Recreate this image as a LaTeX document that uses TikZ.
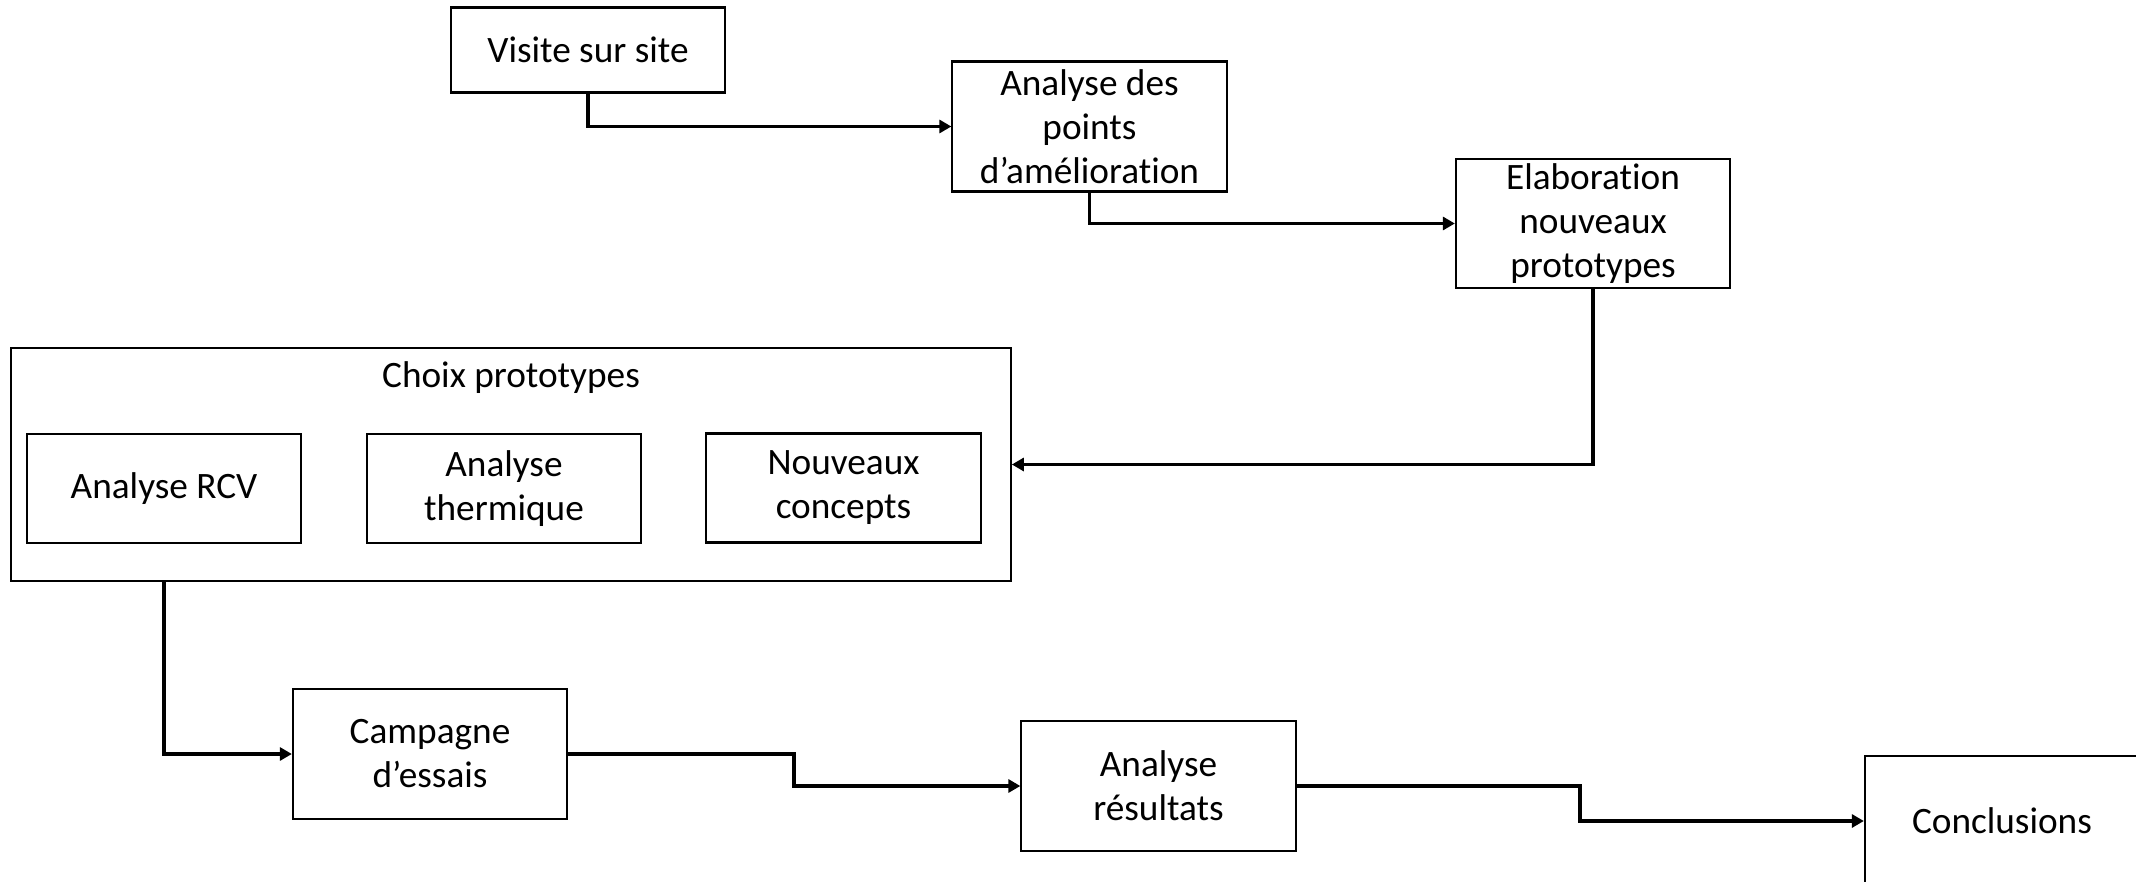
\documentclass[tikz,border=0pt]{standalone}
\usepackage{fontspec}
\setmainfont{Carlito}[Ligatures=NoCommon]
\usetikzlibrary{arrows.meta}
\begin{document}
\begin{tikzpicture}[x=0.01cm,y=-0.01cm,
  box/.style={draw=black,line width=0.6pt,minimum width=2.74cm,minimum height=1.30cm,
    inner sep=0pt,align=center,font=\fontsize{10.6}{12.5}\selectfont},
  conn/.style={line width=1pt,-{Triangle[length=0.12cm,width=0.13cm]}}]
\useasboundingbox (0,0) rectangle (2136,882);
\clip (0,0) rectangle (2136,882);
\node[box,minimum height=0.85cm] (visite) at (588,50) {Visite sur site};
\node[box] (ana) at (1089.5,126.5) {Analyse des\\points\\d’amélioration};
\node[box,minimum height=1.29cm] (elab) at (1593,223.5) {Elaboration\\nouveaux\\prototypes};
\node[box,minimum width=9.99cm,minimum height=2.33cm] (choix) at (511,464.5) {};
\node[font=\fontsize{10.6}{12.5}\selectfont] (choixt) at (511,378) {Choix prototypes};
\node[box,minimum height=1.09cm] (rcv) at (164,488.5) {Analyse RCV};
\node[box,minimum height=1.09cm] (therm) at (504,488.5) {Analyse\\thermique};
\node[box,minimum height=1.09cm] (nouv) at (843.5,488) {Nouveaux\\concepts};
\node[box] (camp) at (430,754) {Campagne\\d’essais};
\node[box] (res) at (1158.5,786) {Analyse\\résultats};
\node[box] (concl) at (2002,821) {Conclusions};
\coordinate (k1) at (794,754);
\coordinate (k2) at (1580,786);
\draw[conn] (visite.south) |- (ana.west);
\draw[conn] (ana.south) |- (elab.west);
\draw[conn] (elab.south) |- (choix.east);
\draw[conn] (choix.south -| rcv.south) |- (camp.west);
\draw[conn] (camp.east) -- (k1) |- (res.west);
\draw[conn] (res.east) -- (k2) |- (concl.west);
\end{tikzpicture}
\end{document}
